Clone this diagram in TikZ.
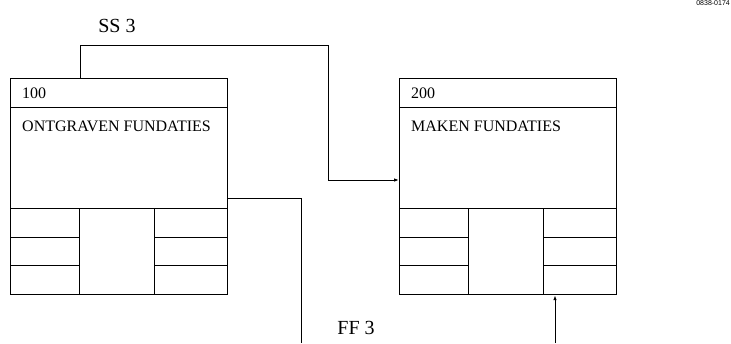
\documentclass[tikz,border=0pt]{standalone}
\usepackage{fontspec}
\setmainfont{Liberation Serif}
\newfontfamily\tagfont{Liberation Sans}
\usetikzlibrary{arrows.meta,positioning,calc}

\begin{document}
\begin{tikzpicture}[
      x=1pt, y=-1pt,
      blok/.style={draw, line width=1.2pt, rectangle, anchor=north west, minimum width=217pt, minimum height=216pt, inner sep=0pt},
      deel/.style={line width=0.9pt},
      lbl/.style={anchor=west, inner sep=0pt, font=\fontsize{16}{19}\selectfont},
      rel/.style={inner sep=0pt, font=\fontsize{20}{24}\selectfont},
      lijn/.style={line width=1pt},
      pijl/.style={lijn, -{Latex[length=5pt,width=3.5pt]}}
    ]
    \useasboundingbox (0,0) rectangle (731,343);

    % de twee activiteiten
    \foreach \n/\x/\nr/\txt in {a/10/100/ONTGRAVEN FUNDATIES, b/399/200/MAKEN FUNDATIES} {
      \node[blok] (\n) at (\x,78) {};
      \node[lbl] (\n-nr) at ($(\n.north west)+(12,15)$) {\nr};
      \node[lbl] (\n-txt) at ($(\n.north west)+(12,48)$) {\txt};
      \draw[deel] ($(\n.north west)+(0,29)$) -- ++(217,0);
      \draw[deel] ($(\n.north west)+(0,130)$) -- ++(217,0);
      \draw[deel] ($(\n.north west)+(69,130)$) -- ++(0,86);
      \draw[deel] ($(\n.north west)+(144,130)$) -- ++(0,86);
      \foreach \r in {159,187} {
        \draw[deel] ($(\n.north west)+(0,\r)$) -- ++(69,0);
        \draw[deel] ($(\n.north west)+(144,\r)$) -- ++(73,0);
      }
    }

    % relaties
    \coordinate (ssbron) at ($(a.north west)+(70,0)$);
    \coordinate (ssdoel) at ($(b.north west)+(0,102)$);
    \coordinate (ffbron) at ($(a.north east)+(0,120)$);
    \coordinate (ffeind) at (301,343);
    \coordinate (pijlvoet) at (555,343);

    \draw[pijl] (ssbron) |- (328,45) |- (ssdoel);
    \draw[lijn] (ffbron) -| (ffeind);
    \draw[pijl] (pijlvoet) -- (pijlvoet |- b.south);

    \node[rel] (ss) at (117,26) {SS 3};
    \node[rel] (ff) at (356,328) {FF 3};
    \node[inner sep=0pt, anchor=north east, font=\tagfont\fontsize{7}{8}\selectfont] (tag) at (730,0.5) {0838-0174};
  \end{tikzpicture}
\end{document}
